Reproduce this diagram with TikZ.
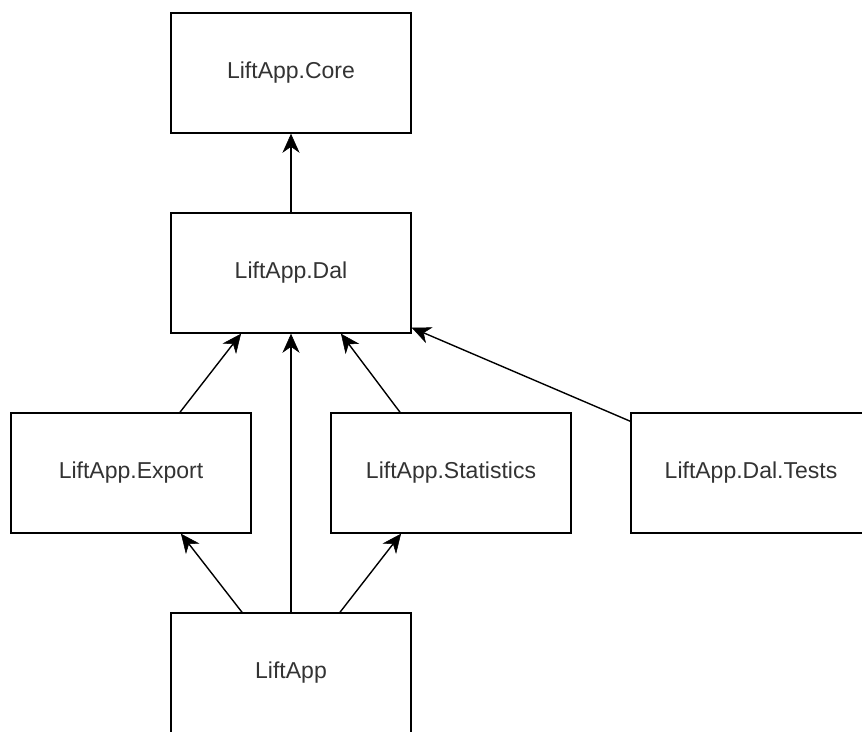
\documentclass[tikz,border=0pt]{standalone}
\usepackage{fontspec}
\setmainfont{Liberation Sans}
\usetikzlibrary{arrows.meta}
\definecolor{labelgray}{HTML}{333333}
\tikzset{
  module/.style={draw=black, line width=1.5pt, fill=white, minimum width=240pt,
    minimum height=120pt, inner sep=0pt, text=labelgray, font=\fontsize{23}{27}\selectfont},
  dep/.style={draw=black, line width=1.4pt,
    -{Stealth[length=19pt, width=17pt, inset=6pt, line width=0.5pt]}}
}
\begin{document}
\begin{tikzpicture}[x=1pt, y=1pt]
  \useasboundingbox (0,0) rectangle (862,731);
  \clip (0,0) rectangle (862,731);
  \fill[white] (0,0) rectangle (862,731);

  % project modules
  \node[module] (core)  at (291,658) {LiftApp.Core};
  \node[module] (dal)   at (291,458) {LiftApp.Dal};
  \node[module] (exp)   at (131,258) {LiftApp.Export};
  \node[module] (stats) at (451,258) {LiftApp.Statistics};
  \node[module] (tests) at (751,258) {LiftApp.Dal.Tests};
  \node[module] (app)   at (291,58)  {LiftApp};

  % project references
  \draw[dep] (dal.north) -- (core.south);
  \draw[dep] ([xshift=49pt]exp.north) -- ([xshift=-50pt]dal.south);
  \draw[dep] (app.north) -- (dal.south);
  \draw[dep] ([xshift=-51pt]stats.north) -- ([xshift=50pt]dal.south);
  \draw[dep] ([yshift=-9pt]tests.north west) -- ([yshift=6pt]dal.south east);
  \draw[dep] ([xshift=-49pt]app.north) -- ([xshift=50pt]exp.south);
  \draw[dep] ([xshift=49pt]app.north) -- ([xshift=-50pt]stats.south);
\end{tikzpicture}
\end{document}
